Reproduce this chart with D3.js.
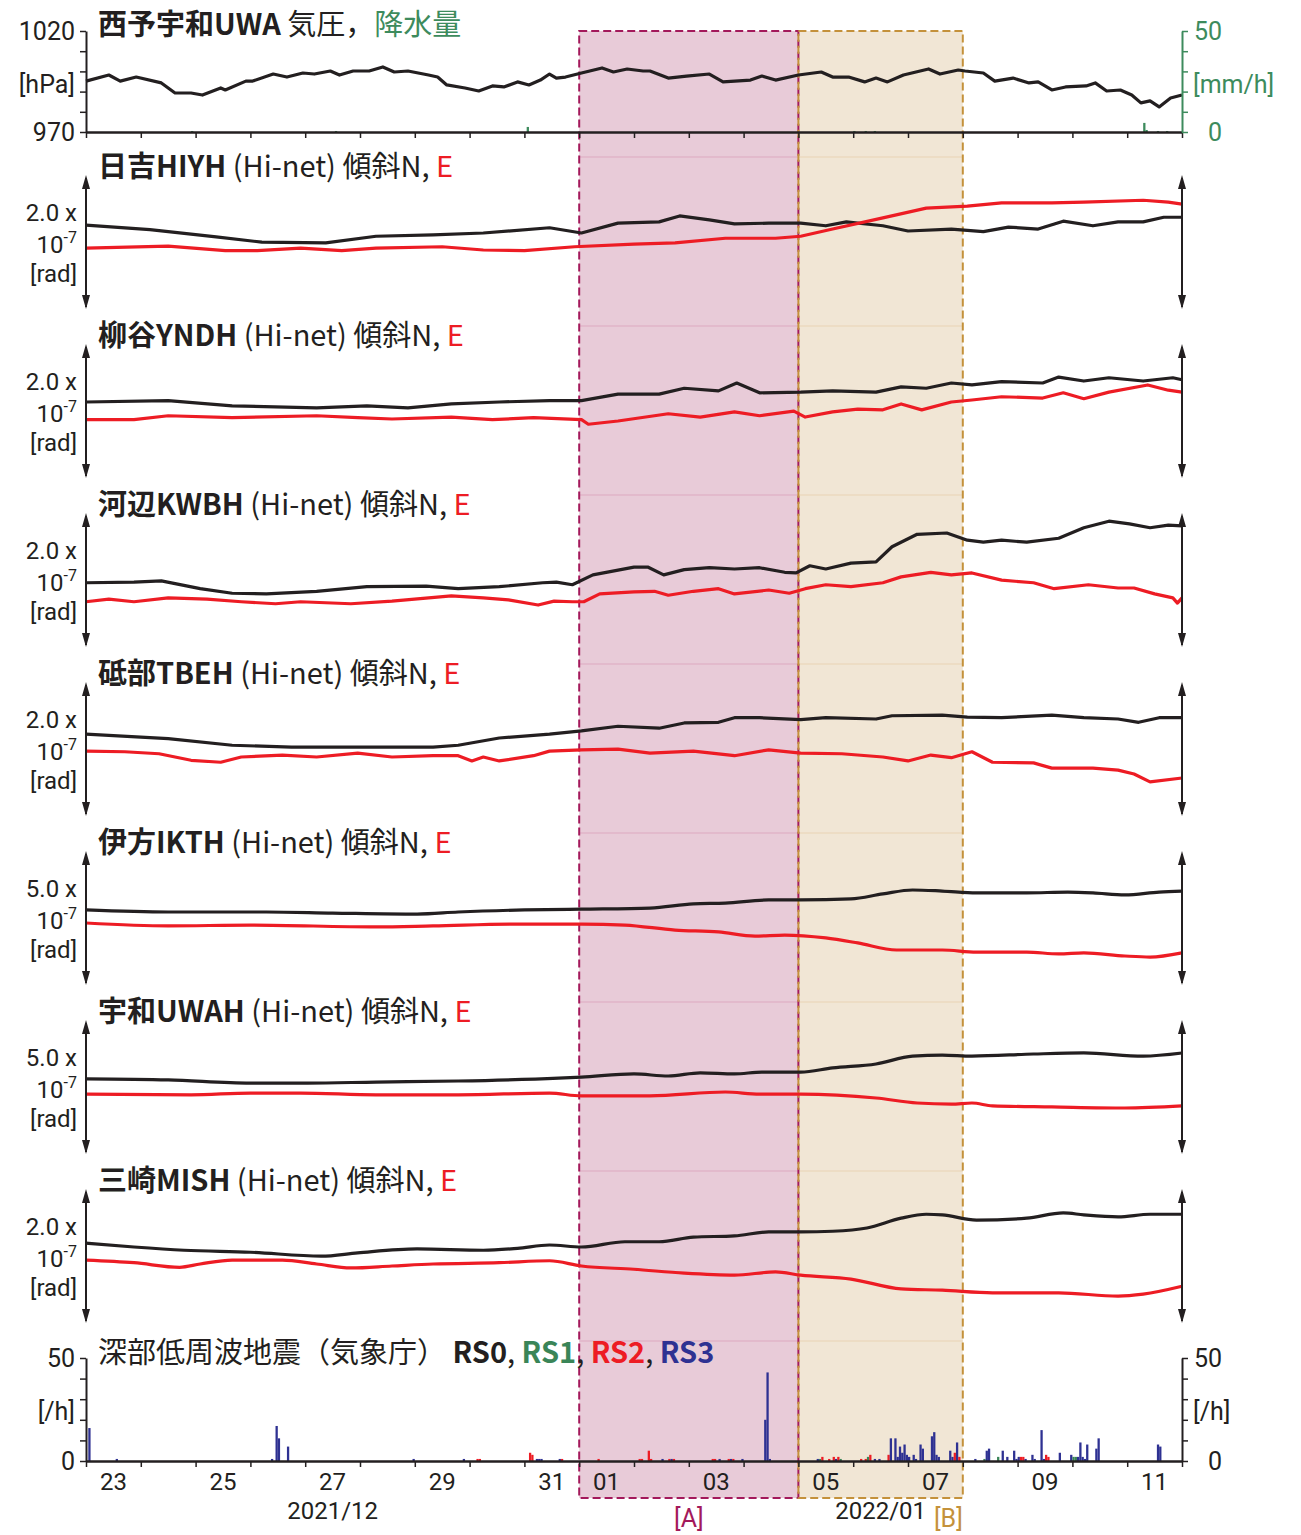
<!DOCTYPE html>
<html>
<head>
<meta charset="utf-8">
<script src="https://cdn.jsdelivr.net/npm/d3@7"></script>
<style>
  body { margin: 0; background: #fff; }
  svg { display: block; font-family: "Noto Sans CJK JP", "Noto Sans", sans-serif; }
  .num { font-family: Roboto, "Noto Sans", sans-serif; }
</style>
</head>
<body>
<div class="canvas"></div>
<script>
// time axis: hours after 2021-12-23 00:00
const t0 = new Date(2021, 11, 23);
const t1 = new Date(2022, 0, 12);

// pressure [hour, hPa]
const pressure = [
  [0,995.2],[10,998.2],[15,995.2],[22,997.2],[33,994.3],[39,989.3],[46,989.3],[51,988.3],[59,991.8],[61,990.8],
  [70,995.2],[73,995.2],[82,998.7],[88,997.2],[95,999.2],[100,998.7],[107,1000.2],[111,998.2],[117,1000.2],[124,1000.2],
  [130,1002.2],[135,999.7],[141,1000.2],[150,998.2],[154,997.2],[158,993.3],[166,991.8],[172,990.3],[178,992.8],[183,992.3],
  [189,994.8],[194,993.3],[199,995.7],[203,998.7],[206,996.7],[210,997.2],[217,999.2],[226,1001.7],[231,999.7],[237,1001.2],
  [244,1000.2],[247,1000.2],[255,996.7],[263,997.7],[273,998.7],[279,994.8],[291,995.7],[296,997.7],[302,995.7],[312,998.2],
  [322,999.7],[327,997.2],[334,997.2],[341,994.8],[346,996.7],[351,994.8],[358,998.2],[369,1001.2],[374,998.7],[382,1000.7],
  [385,1000.2],[393,999.2],[398,995.2],[406,996.7],[413,994.3],[417,994.8],[423,990.8],[429,992.3],[438,992.8],[442,994.3],
  [447,990.3],[453,990.8],[458,988.3],[462,984.4],[466,985.4],[470,982.4],[475,986.8],[480,988.3]
];

// precipitation [hour, mm/h]
const rain = [[46,0.5],[109,0.5],[193,2.5],[336,0.5],[341,0.5],[345,0.5],[463,4.5],[464,1],[469,0.5],[473,0.5]];

// tilt [hour, x1e-7 rad]
const hiyhN = [[0,1.25],[28,1.18],[57,1.07],[77,0.99],[105,0.98],[127,1.08],[152,1.10],[174,1.13],[203,1.21],[217,1.13],[233,1.28],[251,1.30],[260,1.39],[273,1.33],[284,1.27],[299,1.28],[313,1.28],[324,1.24],[333,1.30],[349,1.24],[360,1.16],[379,1.19],[393,1.15],[404,1.22],[417,1.19],[428,1.31],[441,1.24],[452,1.30],[463,1.30],[472,1.37],[480,1.37]];
const hiyhE = [[0,0.90],[36,0.93],[61,0.86],[75,0.86],[94,0.90],[112,0.86],[127,0.90],[156,0.92],[174,0.87],[192,0.86],[214,0.92],[240,0.96],[258,0.98],[280,1.05],[302,1.05],[313,1.08],[327,1.19],[349,1.36],[368,1.51],[386,1.54],[401,1.59],[423,1.59],[437,1.60],[463,1.63],[474,1.60],[480,1.57]];

const yndhN = [[0,1.13],[36,1.15],[64,1.07],[101,1.04],[123,1.07],[141,1.04],[160,1.10],[181,1.13],[203,1.15],[217,1.15],[233,1.25],[251,1.25],[262,1.34],[277,1.30],[285,1.42],[295,1.27],[313,1.28],[327,1.30],[346,1.28],[357,1.36],[368,1.34],[379,1.42],[388,1.39],[401,1.44],[419,1.42],[426,1.51],[437,1.45],[448,1.50],[463,1.45],[476,1.50],[480,1.47]];
const yndhE = [[0,0.86],[21,0.86],[36,0.92],[64,0.89],[101,0.92],[119,0.89],[134,0.87],[160,0.90],[178,0.86],[196,0.89],[217,0.86],[220,0.79],[233,0.84],[255,0.95],[269,0.90],[284,0.98],[295,0.92],[310,0.99],[315,0.90],[327,0.98],[338,1.02],[349,1.01],[357,1.10],[366,1.01],[379,1.13],[388,1.16],[401,1.21],[419,1.19],[428,1.27],[437,1.18],[448,1.28],[465,1.39],[474,1.31],[480,1.28]];

const kwbhN = [[0,0.95],[21,0.96],[33,0.98],[50,0.86],[64,0.79],[79,0.78],[101,0.82],[123,0.89],[149,0.90],[163,0.86],[181,0.89],[200,0.95],[206,0.96],[213,0.92],[222,1.07],[240,1.19],[246,1.19],[253,1.07],[262,1.15],[273,1.18],[284,1.16],[295,1.18],[306,1.11],[311,1.10],[317,1.21],[324,1.16],[335,1.25],[346,1.27],[353,1.50],[364,1.69],[377,1.71],[386,1.60],[393,1.57],[401,1.60],[412,1.57],[426,1.63],[437,1.79],[448,1.89],[457,1.85],[466,1.79],[474,1.83],[480,1.82]];
const kwbhE = [[0,0.66],[10,0.70],[21,0.66],[36,0.72],[53,0.70],[68,0.66],[83,0.63],[94,0.66],[116,0.63],[134,0.67],[160,0.75],[174,0.72],[185,0.69],[198,0.61],[205,0.67],[213,0.66],[218,0.66],[225,0.78],[240,0.81],[249,0.82],[255,0.76],[266,0.82],[277,0.86],[284,0.78],[299,0.84],[308,0.79],[315,0.86],[324,0.92],[335,0.89],[349,0.95],[357,1.04],[370,1.11],[379,1.07],[388,1.10],[401,0.99],[415,0.95],[424,0.86],[439,0.92],[452,0.87],[459,0.87],[468,0.78],[476,0.72],[478,0.64],[480,0.72]];

const tbehN = [[0,1.22],[36,1.15],[64,1.05],[90,1.02],[119,1.02],[152,1.02],[163,1.05],[181,1.16],[203,1.22],[217,1.27],[233,1.34],[251,1.31],[262,1.39],[277,1.40],[284,1.47],[295,1.47],[313,1.44],[324,1.47],[346,1.45],[353,1.50],[375,1.51],[386,1.48],[401,1.47],[423,1.51],[437,1.47],[452,1.45],[461,1.40],[470,1.47],[480,1.47]];
const tbehE = [[0,0.96],[17,0.95],[32,0.92],[46,0.82],[59,0.79],[68,0.87],[86,0.90],[101,0.87],[119,0.93],[134,0.87],[152,0.89],[163,0.89],[169,0.81],[174,0.87],[181,0.81],[196,0.89],[203,0.96],[217,0.98],[233,0.99],[247,0.93],[266,0.96],[284,0.89],[299,0.98],[313,0.93],[331,0.92],[349,0.87],[360,0.81],[370,0.90],[379,0.86],[388,0.95],[397,0.79],[415,0.78],[423,0.70],[441,0.70],[452,0.67],[459,0.61],[466,0.49],[480,0.55]];

const ikthN = [[0,2.79],[36,2.71],[79,2.71],[108,2.67],[145,2.63],[163,2.71],[192,2.79],[217,2.82],[247,2.86],[266,3.02],[280,3.05],[299,3.17],[313,3.17],[335,3.21],[349,3.40],[362,3.55],[375,3.51],[390,3.44],[412,3.44],[430,3.47],[441,3.44],[455,3.36],[470,3.47],[480,3.51]];
const ikthE = [[0,2.29],[36,2.18],[72,2.21],[127,2.14],[152,2.18],[189,2.25],[217,2.25],[236,2.21],[258,2.02],[277,1.95],[293,1.79],[306,1.83],[324,1.72],[338,1.53],[355,1.26],[375,1.26],[390,1.18],[412,1.18],[426,1.11],[437,1.15],[455,1.03],[466,0.99],[480,1.15]];

const uwahN = [[0,2.79],[36,2.75],[72,2.63],[97,2.63],[127,2.67],[163,2.71],[207,2.82],[217,2.86],[240,2.98],[255,2.90],[269,3.02],[284,2.98],[296,3.05],[313,3.05],[327,3.21],[346,3.36],[362,3.66],[375,3.70],[388,3.66],[415,3.74],[437,3.78],[463,3.66],[480,3.78]];
const uwahE = [[0,2.21],[46,2.18],[72,2.25],[94,2.25],[127,2.18],[163,2.18],[203,2.25],[217,2.14],[247,2.14],[280,2.29],[295,2.21],[313,2.21],[346,2.06],[364,1.87],[379,1.83],[388,1.87],[397,1.76],[423,1.72],[455,1.68],[480,1.76]];

const mishN = [[0,1.19],[21,1.13],[43,1.08],[72,1.05],[103,0.99],[119,1.04],[145,1.10],[174,1.08],[189,1.11],[203,1.16],[217,1.13],[236,1.21],[251,1.21],[266,1.28],[284,1.30],[299,1.36],[313,1.36],[327,1.37],[342,1.42],[357,1.57],[368,1.63],[375,1.62],[390,1.54],[412,1.57],[428,1.65],[437,1.62],[452,1.59],[466,1.63],[480,1.63]];
const mishE = [[0,0.93],[21,0.89],[41,0.82],[50,0.87],[64,0.93],[86,0.93],[101,0.87],[116,0.81],[134,0.84],[152,0.87],[181,0.89],[203,0.92],[217,0.84],[240,0.79],[262,0.73],[284,0.70],[302,0.75],[313,0.70],[335,0.64],[357,0.49],[375,0.47],[397,0.43],[426,0.43],[452,0.38],[463,0.41],[480,0.53]];

const stationNames = ["日吉HIYH", "柳谷YNDH", "河辺KWBH", "砥部TBEH", "伊方IKTH", "宇和UWAH", "三崎MISH"];
const stationSpans = [2.0, 2.0, 2.0, 2.0, 5.0, 5.0, 2.0];
const tiltN = [hiyhN, yndhN, kwbhN, tbehN, ikthN, uwahN, mishN];
const tiltE = [hiyhE, yndhE, kwbhE, tbehE, ikthE, uwahE, mishE];

// deep low-frequency earthquakes [hour, count/h, RS class]
const lfe = [
  [1,16,3],[13,1,3],[81,1,3],[83,17,3],[84,11,3],[88,7,3],[143,1,3],[165,1,3],[171,1,2],[172,1,2],[194,4,2],[195,3,2],
  [197,1,3],[198,1,3],[199,1,3],[207,1,3],[208,1,2],[224,1,2],[242,1,2],[243,1,2],[246,5,2],[247,1,2],[252,1,3],[255,1,2],
  [256,1,3],[257,1,2],[274,1,2],[275,1,2],[277,1,3],[281,1,2],[282,1,3],[283,1,2],[287,1,3],[297,20,3],[298,43,3],[299,1,3],
  [320,1,3],[321,1,1],[322,2,2],[325,1,2],[327,2,2],[328,1,3],[329,2,2],[330,1,1],[339,1,2],[341,1,2],[342,2,1],[343,3,2],
  [345,1,3],[347,1,3],[351,3,2],[352,11,3],[354,11,3],[355,2,3],[356,7,3],[357,4,3],[358,8,3],[359,3,3],[360,2,3],[362,3,3],
  [363,1,3],[365,8,3],[366,6,3],[370,12,3],[371,14,3],[372,3,3],[373,2,3],[378,5,3],[379,2,3],[380,4,2],[381,9,3],[382,2,2],
  [389,1,3],[393,1,1],[394,5,3],[395,6,3],[399,2,1],[401,5,3],[403,2,3],[406,5,3],[407,1,3],[408,2,3],[409,2,2],[410,2,2],
  [411,1,3],[414,3,3],[415,1,3],[418,15,3],[419,1,3],[420,3,2],[421,2,2],[426,4,3],[431,3,3],[432,2,1],[433,2,1],[434,2,3],
  [435,9,3],[436,2,3],[437,1,3],[438,8,3],[442,6,3],[443,11,3],[469,8,3],[470,7,3]
];
const rsColors = ["#231f20", "#3a8558", "#ed1c24", "#2e3192"];

// highlighted periods [start hour, end hour]
const periodA = [216, 312];
const periodB = [312, 384];

const black = "#231f20";
const red = "#ed1c24";
const green = "#3d8b5d";

const at = (h) => d3.timeHour.offset(t0, h);

const svg = d3
  .select(".canvas")
  .append("svg")
  .attr("width", 1301)
  .attr("height", 1535);

const x = d3.scaleTime().domain([t0, t1]).range([86, 1182]);
const barW = (h) => x(at(h + 1)) - x(at(h));

// panel layout
const tiltTop = (i) => 176 + 169 * i;
const tiltH = 131;
const yP = d3.scaleLinear().domain([970, 1020]).range([132, 31]);
const yR = d3.scaleLinear().domain([0, 50]).range([132, 31]);
const yC = d3.scaleLinear().domain([0, 50]).range([1461, 1358]);

// period shading
const periods = [
  { p: periodA, fill: "#e8cbd8", stroke: "#a3195b", grid: "#dda9c0" },
  { p: periodB, fill: "#f1e6d5", stroke: "#c4913b", grid: "#e9d3b4" },
];
periods.forEach((d) => {
  const x0 = x(at(d.p[0])), x1 = x(at(d.p[1]));
  svg.append("rect")
    .attr("x", x0).attr("y", 31)
    .attr("width", x1 - x0).attr("height", 1498 - 31)
    .attr("fill", d.fill);
  svg.selectAll(null)
    .data(d3.range(8))
    .enter()
    .append("line")
    .attr("x1", x0).attr("x2", x1)
    .attr("y1", (i) => (i < 7 ? 157 + 169 * i : 1341))
    .attr("y2", (i) => (i < 7 ? 157 + 169 * i : 1341))
    .attr("stroke", d.grid).attr("stroke-width", 1);
});
periods.forEach((d) => {
  const x0 = x(at(d.p[0])), x1 = x(at(d.p[1]));
  svg.append("rect")
    .attr("x", x0).attr("y", 31)
    .attr("width", x1 - x0).attr("height", 1498 - 31)
    .attr("fill", "none")
    .attr("stroke", d.stroke).attr("stroke-width", 2)
    .attr("stroke-dasharray", "8,4");
});

// helper for multi-colour titles
const title = (y, parts) => {
  const t = svg.append("text").attr("x", 98).attr("y", y).attr("font-size", 29);
  parts.forEach((p) => {
    t.append("tspan")
      .text(p.t)
      .attr("font-weight", p.b ? "bold" : "normal")
      .attr("fill", p.c || black);
  });
};

// plain label helper (latin text)
const label = (px, py, txt, anchor, col, size) =>
  svg.append("text")
    .attr("class", "num")
    .attr("x", px).attr("y", py)
    .attr("text-anchor", anchor)
    .attr("font-size", size || 25)
    .attr("fill", col || black)
    .text(txt);

const timeTicks = d3.timeDay.range(t0, d3.timeDay.offset(t1, 1));

const xAxisLine = (y) => {
  const g = svg.append("g").attr("transform", `translate(0,${y})`);
  g.call(d3.axisBottom(x).tickValues(timeTicks).tickFormat("").tickSize(6).tickSizeOuter(0));
  g.select(".domain").attr("stroke", black).attr("stroke-width", 2.5);
  g.selectAll(".tick line").attr("stroke", black).attr("stroke-width", 1.5);
};

// ---- pressure / rain panel ----
svg.selectAll(".rain")
  .data(rain)
  .enter()
  .append("rect")
  .attr("x", (d) => x(at(d[0])))
  .attr("width", (d) => barW(d[0]))
  .attr("y", (d) => yR(d[1]))
  .attr("height", (d) => yR(0) - yR(d[1]))
  .attr("fill", green);

svg.append("path")
  .datum(pressure)
  .attr("fill", "none")
  .attr("stroke", black)
  .attr("stroke-width", 3.2)
  .attr("stroke-linejoin", "round")
  .attr("d", d3.line().x((d) => x(at(d[0]))).y((d) => yP(d[1])));

xAxisLine(132);

const pAxis = svg.append("g").attr("transform", "translate(86,0)")
  .call(d3.axisLeft(yP).tickValues(d3.range(970, 1021, 10)).tickFormat((d) => (d === 970 || d === 1020 ? d : "")).tickSize(6).tickSizeOuter(0));
pAxis.select(".domain").attr("stroke", black).attr("stroke-width", 2);
pAxis.selectAll(".tick line").attr("stroke", black).attr("stroke-width", 1.5);
pAxis.selectAll(".tick text").attr("class", "num").attr("font-size", 25).attr("font-family", null).attr("fill", black).attr("x", -11);
label(75, 93, "[hPa]", "end");

const rAxis = svg.append("g").attr("transform", "translate(1182,0)")
  .call(d3.axisRight(yR).tickValues(d3.range(0, 51, 10)).tickFormat((d) => (d === 0 || d === 50 ? d : "")).tickSize(6).tickSizeOuter(0));
rAxis.select(".domain").attr("stroke", green).attr("stroke-width", 2);
rAxis.selectAll(".tick line").attr("stroke", green).attr("stroke-width", 1.5);
rAxis.selectAll(".tick text").attr("class", "num").attr("font-size", 25).attr("font-family", null).attr("fill", green)
  .attr("text-anchor", "end").attr("x", 40);
label(1193, 93, "[mm/h]", "start", green);

title(35, [{ t: "西予宇和UWA", b: true }, { t: " 気圧，" }, { t: "降水量", c: green }]);

// ---- tilt panels ----
const arrowAxis = (ax, top) => {
  svg.append("line")
    .attr("x1", ax).attr("x2", ax)
    .attr("y1", top + 2).attr("y2", top + tiltH)
    .attr("stroke", black).attr("stroke-width", 2);
  svg.append("path")
    .attr("d", `M${ax},${top - 1}L${ax - 4},${top + 13}L${ax + 4},${top + 13}Z M${ax},${top + 133}L${ax - 4},${top + 119}L${ax + 4},${top + 119}Z`)
    .attr("fill", black);
};

stationNames.forEach((name, i) => {
  const top = tiltTop(i);
  const span = stationSpans[i];
  const y = d3.scaleLinear().domain([0, span]).range([top + tiltH, top]);
  const line = d3.line()
    .x((d) => x(at(d[0])))
    .y((d) => y(d[1]))
    .curve(i >= 4 ? d3.curveMonotoneX : d3.curveLinear);

  [[tiltN[i], black], [tiltE[i], red]].forEach(([data, col]) => {
    svg.append("path")
      .datum(data)
      .attr("fill", "none")
      .attr("stroke", col)
      .attr("stroke-width", 3.2)
      .attr("stroke-linejoin", "round")
      .attr("d", line);
  });

  arrowAxis(86, top);
  arrowAxis(1182, top);

  // scale label
  label(77, top + 45, `${span.toFixed(1)} x`, "end", black, 24);
  const s = label(77, top + 77, "", "end", black, 24);
  s.append("tspan").text("10");
  s.append("tspan").attr("dy", -10).attr("font-size", 16).text("-7");
  label(77, top + 106, "[rad]", "end", black, 24);

  title(top + 1, [{ t: name, b: true }, { t: " (Hi-net) 傾斜N, " }, { t: "E", c: red }]);
});

// ---- low-frequency earthquake panel ----
svg.selectAll(".lfe")
  .data(lfe)
  .enter()
  .append("rect")
  .attr("x", (d) => x(at(d[0])))
  .attr("width", (d) => barW(d[0]))
  .attr("y", (d) => yC(d[1]))
  .attr("height", (d) => yC(0) - yC(d[1]))
  .attr("fill", (d) => rsColors[d[2]]);

xAxisLine(1461);

const cLeft = svg.append("g").attr("transform", "translate(86,0)")
  .call(d3.axisLeft(yC).tickValues(d3.range(0, 51, 10)).tickFormat((d) => (d === 0 || d === 50 ? d : "")).tickSize(6).tickSizeOuter(0));
const cRight = svg.append("g").attr("transform", "translate(1182,0)")
  .call(d3.axisRight(yC).tickValues(d3.range(0, 51, 10)).tickFormat((d) => (d === 0 || d === 50 ? d : "")).tickSize(6).tickSizeOuter(0));
[cLeft, cRight].forEach((g) => {
  g.select(".domain").attr("stroke", black).attr("stroke-width", 2);
  g.selectAll(".tick line").attr("stroke", black).attr("stroke-width", 1.5);
  g.selectAll(".tick text").attr("class", "num").attr("font-size", 25).attr("font-family", null).attr("fill", black);
});
cLeft.selectAll(".tick text").attr("x", -11);
cRight.selectAll(".tick text").attr("text-anchor", "end").attr("x", 40);
label(75, 1420, "[/h]", "end");
label(1193, 1420, "[/h]", "start");

title(1363, [
  { t: "深部低周波地震（気象庁） " },
  { t: "RS0", b: true, c: rsColors[0] }, { t: ", " },
  { t: "RS1", b: true, c: rsColors[1] }, { t: ", " },
  { t: "RS2", b: true, c: rsColors[2] }, { t: ", " },
  { t: "RS3", b: true, c: rsColors[3] },
]);

// date labels at noon of odd days
svg.selectAll(".dlab")
  .data(d3.timeDay.range(t0, t1).filter((d) => d.getDate() % 2 === 1))
  .enter()
  .append("text")
  .attr("class", "num")
  .attr("x", (d) => x(d3.timeHour.offset(d, 12)))
  .attr("y", 1490)
  .attr("text-anchor", "middle")
  .attr("font-size", 24)
  .attr("fill", black)
  .text(d3.timeFormat("%d"));

label(x(at(108)), 1519, "2021/12", "middle", black, 24);
label(x(at(348)), 1519, "2022/01", "middle", black, 24);

label(x(at((periodA[0] + periodA[1]) / 2)), 1527, "[A]", "middle", "#a3195b", 25);
label(x(at(periodB[1])), 1527, "[B]", "end", "#c4913b", 25);
</script>
</body>
</html>
